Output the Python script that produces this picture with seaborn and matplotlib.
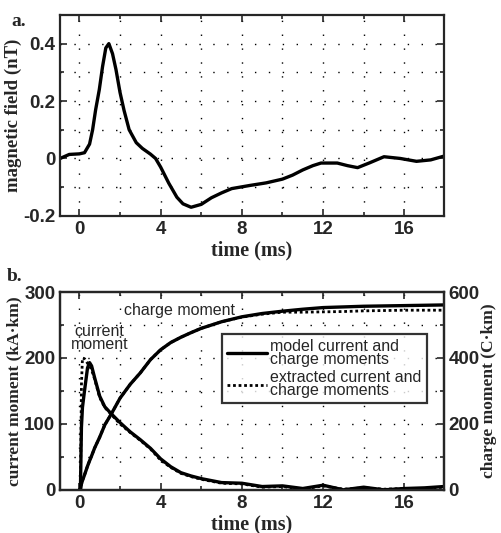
import matplotlib
matplotlib.use('Agg')

import numpy as np
import pandas as pd
import matplotlib.pyplot as plt
import seaborn as sns

# ========== DATA ==========
# panel a: magnetic field (nT) vs time (ms)
b_time = [-0.95, -0.5, 0.0, 0.25, 0.5, 0.65, 0.8, 0.98, 1.14, 1.3, 1.45, 1.63,
          1.8, 2.0, 2.2, 2.45, 2.8, 3.1, 3.5, 3.75, 4.0, 4.4, 4.8, 5.1, 5.5,
          6.0, 6.5, 7.0, 7.5, 8.4, 9.2, 10.0, 10.5, 11.0, 11.5, 11.9, 12.7,
          13.2, 13.7, 14.3, 15.0, 15.8, 16.6, 17.3, 17.95]
b_field = [0.0, 0.014, 0.016, 0.02, 0.05, 0.1, 0.17, 0.24, 0.32, 0.385, 0.4,
           0.365, 0.31, 0.23, 0.167, 0.1, 0.055, 0.035, 0.015, 0.0, -0.03,
           -0.086, -0.135, -0.158, -0.17, -0.16, -0.137, -0.12, -0.105, -0.094,
           -0.085, -0.072, -0.058, -0.04, -0.025, -0.016, -0.016, -0.025,
           -0.032, -0.015, 0.006, 0.0, -0.01, -0.005, 0.008]

# panel b: current moment (kA km) and charge moment (C km)
m_time = [0.0, 0.05, 0.1, 0.15, 0.25, 0.4, 0.5, 0.6, 0.75, 1.0, 1.25, 1.55,
          2.0, 2.5, 3.0, 3.5, 4.0, 4.5, 5.0, 5.5, 6.0, 7.0, 8.0, 9.0, 10.0,
          11.0, 12.0, 13.0, 14.0, 15.0, 16.0, 17.0, 17.95]
cur_model = [0, 0, 95, 125, 150, 185, 193, 188, 170, 142, 126, 116, 102, 88,
             76, 63, 47, 35, 26, 21, 17, 11, 10, 5, 6, 2, 7, 0, 4, 0, 2, 3, 5]
cur_extract = [0, 0, 160, 200, 199, 192, 188, 182, 168, 140, 125, 115, 100, 87,
               75, 62, 45, 34, 25, 20, 16, 10, 9, 4, 5, 1, 6, 1, 3, 1, 2, 2, 4]
chg_model = [0, 0, 18, 28, 45, 72, 88, 103, 127, 160, 197, 228, 278, 320, 355,
             395, 425, 447, 463, 477, 490, 510, 525, 535, 542, 548, 553, 555,
             557, 558, 559, 560, 561]
chg_extract = [0, 0, 18, 28, 45, 72, 88, 103, 127, 160, 197, 228, 278, 320, 355,
               395, 425, 447, 463, 477, 490, 510, 524, 533, 539, 539, 540, 541,
               543, 544, 545, 545, 545]

dfa = pd.DataFrame({'time': b_time, 'field': b_field})
dfb = pd.DataFrame({'time': m_time, 'cm': cur_model, 'ce': cur_extract,
                    'qm': chg_model, 'qe': chg_extract})

# ========== STYLE ==========
sns.set_style("ticks")
plt.rcParams['font.family'] = ['Liberation Sans', 'DejaVu Sans']
plt.rcParams['xtick.direction'] = 'in'
plt.rcParams['ytick.direction'] = 'in'
plt.rcParams['axes.linewidth'] = 1.6

tick_font = dict(family='Liberation Sans', weight='bold', size=13.5)
lab_font = dict(family='Liberation Serif', weight='bold')

fig = plt.figure(figsize=(5.01, 5.33), dpi=100)
ax1 = fig.add_axes([0.120, 0.595, 0.766, 0.377])
ax2 = fig.add_axes([0.120, 0.081, 0.766, 0.371])


def dotted_grid(ax, xs, ys):
    # sparse dotted grid like the scanned original
    for x in xs:
        ax.axvline(x, color='black', lw=1.0, ls=(0, (1, 9)), zorder=0)
    for y in ys:
        ax.axhline(y, color='black', lw=1.0, ls=(0, (1, 9)), zorder=0)


# ========== PANEL A ==========
sns.lineplot(data=dfa, x='time', y='field', ax=ax1, color='black', lw=2.4)
ax1.set_xlim(-0.95, 17.95)
ax1.set_ylim(-0.2, 0.5)
ax1.set_xticks([0, 4, 8, 12, 16])
ax1.set_xticks(np.arange(0, 17.9, 2), minor=True)
ax1.set_yticks([-0.2, 0, 0.2, 0.4])
ax1.set_yticklabels(['-0.2', '0', '0.2', '0.4'])
ax1.set_yticks(np.arange(-0.2, 0.51, 0.1), minor=True)
ax1.tick_params(which='both', top=True, right=True, width=1.2)
ax1.tick_params(which='major', length=5)
ax1.tick_params(which='minor', length=3)
dotted_grid(ax1, np.arange(0, 17.9, 2), np.arange(-0.1, 0.45, 0.1))
for t in ax1.get_xticklabels() + ax1.get_yticklabels():
    t.set(**tick_font)
ax1.set_xlabel('time (ms)', **lab_font, size=14.5, labelpad=2)
ax1.set_ylabel('magnetic field (nT)', **lab_font, size=13.5, labelpad=1)
fig.text(0.022, 0.975, 'a.', family='Liberation Serif', weight='bold', size=14, va='top')

# ========== PANEL B ==========
ax3 = ax2.twinx()
sns.lineplot(data=dfb, x='time', y='cm', ax=ax2, color='black', lw=2.4,
             label='model current and\ncharge moments')
sns.lineplot(data=dfb, x='time', y='ce', ax=ax2, color='black', lw=2.0,
             ls=(0, (1, 1)), label='extracted current and\ncharge moments')
sns.lineplot(data=dfb, x='time', y='qm', ax=ax3, color='black', lw=2.4)
sns.lineplot(data=dfb, x='time', y='qe', ax=ax3, color='black', lw=2.0, ls=(0, (1, 1)))

ax2.set_xlim(-0.95, 17.95)
ax2.set_ylim(0, 300)
ax3.set_ylim(0, 600)
ax2.set_xticks([0, 4, 8, 12, 16])
ax2.set_xticks(np.arange(0, 17.9, 2), minor=True)
ax2.set_yticks([0, 100, 200, 300])
ax2.set_yticks(np.arange(0, 301, 50), minor=True)
ax3.set_yticks([0, 200, 400, 600])
ax3.set_yticks(np.arange(0, 601, 100), minor=True)
ax2.tick_params(which='both', top=True, width=1.2)
ax2.tick_params(which='major', length=5)
ax2.tick_params(which='minor', length=3)
ax3.tick_params(which='both', width=1.2)
ax3.tick_params(which='major', length=5)
ax3.tick_params(which='minor', length=3)
dotted_grid(ax2, np.arange(0, 17.9, 2), np.arange(50, 260, 50))
for t in ax2.get_xticklabels() + ax2.get_yticklabels() + ax3.get_yticklabels():
    t.set(**tick_font)
ax2.set_xlabel('time (ms)', **lab_font, size=14.5, labelpad=2)
ax2.set_ylabel('current moment (kA\u00b7km)', **lab_font, size=12.5, labelpad=1)
ax3.set_ylabel('charge moment (C\u00b7km)', **lab_font, size=12.5, labelpad=1)
for sp in ax3.spines.values():
    sp.set_linewidth(1.6)

ax2.text(4.95, 272, 'charge moment', size=11.5, ha='center', va='center')
ax2.text(1.0, 230, 'current\nmoment', size=11.5, ha='center', va='center', linespacing=0.85)

leg = ax2.legend(loc='upper left', bbox_to_anchor=(0.423, 0.788), fontsize=11.5,
                 frameon=True, fancybox=False, edgecolor='black', handlelength=2.5,
                 handletextpad=0.2, borderpad=0.3, labelspacing=0.2,
                 borderaxespad=0)
leg.get_frame().set_linewidth(1.6)
for t in leg.get_texts():
    t.set_linespacing(0.85)
leg.set_zorder(5)
ax3.set_zorder(1)
ax2.set_zorder(2)
ax2.patch.set_visible(False)

fig.text(0.014, 0.497, 'b.', family='Liberation Serif', weight='bold', size=14, va='top')

fig.savefig('out.png', dpi=100)
